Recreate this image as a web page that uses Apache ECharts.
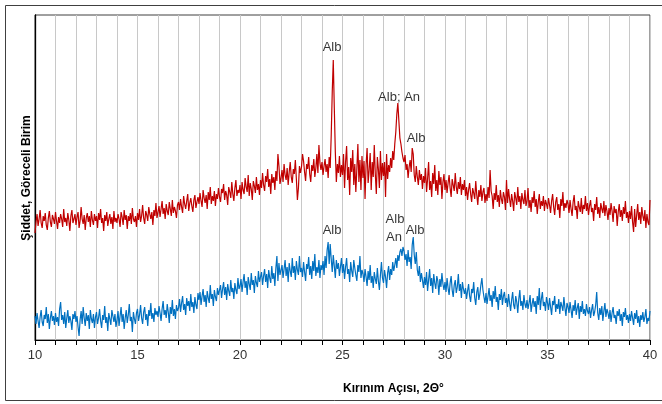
<!DOCTYPE html>
<html><head><meta charset="utf-8">
<script src="https://cdn.jsdelivr.net/npm/echarts@6/dist/echarts.min.js"></script>
<style>html,body{margin:0;padding:0;background:#fff}#c{width:662px;height:404px}</style>
</head><body><div id="c"></div>
<script>
// 2θ sampling of the scans (degrees)
const angleStart = 10;
const angleStep = 0.05;

// upper (red) pattern, relative intensity, one row per degree
const redIntensity = [
107,118,126,114,121,130,117,112,124,119,127,115,110,122,129,118,113,125,121,116,
128,119,111,123,117,126,121,113,131,118,122,114,127,120,109,124,130,117,121,126,
115,123,128,112,119,133,121,116,125,110,122,127,118,124,113,129,120,115,126,119,
124,112,127,120,131,117,122,109,125,119,128,114,121,126,116,123,111,129,118,122,
117,126,121,113,128,123,115,130,120,125,111,124,119,127,116,132,121,118,124,113,
127,120,131,118,124,135,122,116,129,125,119,133,126,121,128,115,130,124,137,122,
128,134,123,131,139,126,132,121,136,129,125,138,131,124,140,127,133,129,122,135,
138,130,141,133,127,144,136,131,139,146,129,137,142,134,128,140,145,132,138,143,
136,147,139,133,150,142,137,145,131,148,140,153,136,144,139,149,134,146,141,152,
143,138,151,147,156,140,149,145,135,153,148,142,158,146,139,152,160,144,150,147,
155,141,158,150,146,162,153,148,165,144,157,151,140,159,154,147,163,150,156,145,
160,152,167,155,149,164,158,171,153,161,146,166,157,163,150,169,159,186,174,156,
162,170,158,176,165,160,172,155,168,178,163,157,171,166,180,161,140,152,174,167,
173,186,179,168,159,176,171,183,166,158,175,169,181,163,172,186,167,195,177,170,
178,165,174,181,168,176,162,183,172,205,248,280,232,188,158,176,167,184,163,175,
165,186,152,178,194,160,173,145,182,168,190,155,176,148,171,196,158,180,150,184,
162,179,141,175,192,157,170,187,150,178,163,195,166,146,183,171,152,189,160,177,
164,178,143,186,161,175,168,182,172,189,180,196,208,226,237,219,202,196,188,182,
178,185,170,176,162,173,180,168,192,186,165,158,174,163,155,170,160,166,151,164,
157,172,148,161,178,150,159,143,167,156,175,149,160,145,169,155,163,141,158,166,
150,160,147,157,165,152,143,161,155,149,167,153,146,158,151,163,145,156,150,160,
144,153,140,150,157,146,138,152,147,141,159,145,135,150,143,155,139,148,152,137,
146,139,153,142,170,149,144,131,147,140,155,138,145,133,150,141,136,148,143,130,
160,137,151,141,133,146,139,129,148,142,135,153,138,144,131,147,140,136,150,134,
139,152,132,140,128,143,137,149,133,141,126,138,146,131,139,134,144,129,140,136,
131,142,135,127,139,146,133,125,138,143,130,136,122,141,134,148,129,137,132,140,
136,127,140,131,124,138,145,130,134,121,139,133,128,142,126,135,131,144,129,137,
125,134,140,128,132,119,136,130,143,126,133,122,137,131,127,139,124,135,129,120,
132,125,137,129,118,134,127,131,114,128,136,123,130,119,133,126,139,122,128,117,
129,121,134,118,108,131,113,125,136,120,128,116,133,124,119,130,112,126,118,115,140
];

// lower (blue) pattern, relative intensity, one row per degree
const blueIntensity = [
24,16,27,19,12,23,30,18,14,25,21,33,17,26,11,22,29,19,24,15,
27,18,23,14,31,38,20,25,16,28,12,22,30,17,24,19,10,26,21,29,
18,24,13,4,20,29,16,33,22,14,27,19,25,11,30,21,17,26,12,23,
28,16,22,31,19,12,25,20,34,17,23,9,27,21,15,30,24,18,26,13,
20,29,14,24,33,18,26,11,22,30,17,25,36,19,23,8,28,21,16,27,
31,19,25,35,22,16,28,33,20,26,14,30,24,37,21,27,18,32,25,29,
23,34,27,19,31,39,25,30,22,36,28,17,33,26,40,24,31,21,35,29,
32,41,28,37,44,30,36,25,42,34,39,29,46,33,38,27,43,35,31,47,
40,48,35,44,51,38,45,33,49,42,37,55,41,46,34,50,43,39,52,45,
47,55,42,51,58,45,53,40,56,49,44,60,48,52,41,57,50,46,62,51,
54,61,48,58,66,52,59,45,63,56,50,67,55,60,47,64,57,53,69,58,
60,68,55,64,71,58,66,52,70,62,57,74,61,67,54,72,84,59,77,65,
66,75,62,71,80,64,73,58,77,69,63,82,67,74,60,79,70,65,84,68,
72,63,78,68,59,76,71,83,65,74,61,79,69,86,64,73,67,80,62,75,
70,79,65,84,72,90,98,76,96,81,68,85,74,62,80,71,77,64,73,82,
67,76,61,73,82,66,71,58,78,69,63,80,72,65,59,75,68,84,62,70,
66,58,71,63,54,69,60,75,57,64,52,68,61,56,72,59,50,65,78,62,
57,70,63,52,67,74,60,71,65,78,69,75,82,72,85,79,88,91,84,93,
89,80,86,74,90,78,83,71,95,103,85,76,88,70,64,74,58,67,60,52,
63,55,68,49,60,71,54,62,47,66,57,51,64,59,45,61,53,67,56,50,
58,48,62,52,45,57,64,50,43,55,60,47,53,66,49,56,42,58,51,46,
52,41,49,56,44,38,51,47,58,42,35,48,53,40,46,55,62,50,43,37,
47,36,44,52,39,45,33,49,41,54,38,43,30,46,40,51,35,44,48,37,
42,33,46,37,29,40,48,35,31,44,38,27,41,50,34,39,30,45,36,32,
40,31,37,45,28,36,42,33,39,26,44,35,52,30,41,48,34,38,29,43,
37,30,42,33,25,39,35,44,28,36,31,41,26,38,34,29,43,32,24,37,
33,27,38,30,22,35,29,40,25,32,37,21,34,28,39,26,31,24,36,29,
26,33,22,30,36,24,28,35,48,27,20,32,25,34,19,29,37,23,31,27,
21,30,18,27,33,22,25,16,29,24,31,19,26,14,28,23,32,20,25,17,
26,19,29,22,15,27,21,30,17,24,13,25,20,28,18,23,31,16,22,19,29
];

// labelled x ticks
const xTickLabels = [10, 15, 20, 25, 30, 35, 40];

// peak annotations: [2θ, intensity, text]
const peakLabels = [
  [24.49, 293, 'Alb'],
  [27.76, 243, 'Alb; An'],
  [28.59, 202, 'Alb'],
  [24.49, 110, 'Alb'],
  [27.56, 121, 'Alb'],
  [27.51, 103, 'An'],
  [28.54, 110, 'Alb']
];

const toPairs = arr => arr.map((v, i) => [+(angleStart + i * angleStep).toFixed(2), v]);

const FONT = '"Liberation Sans", Arial, sans-serif';
const chart = echarts.init(document.getElementById('c'), null, {renderer: 'canvas'});
chart.setOption({
  animation: false,
  backgroundColor: '#fff',
  grid: {left: 35, top: 15, right: 12, bottom: 64, show: true, borderColor: '#404040', borderWidth: 1},
  xAxis: {
    type: 'value', min: 10, max: 40, interval: 1,
    axisLine: {show: true, onZero: false, lineStyle: {color: '#000', width: 1}},
    axisTick: {show: true, inside: false, length: 5, lineStyle: {color: '#000'}},
    axisLabel: {
      show: true, margin: 9, color: '#333', fontSize: 13, fontFamily: FONT,
      formatter: v => xTickLabels.includes(Math.round(v)) ? String(Math.round(v)) : ''
    },
    splitLine: {show: true, lineStyle: {color: '#c8c8c8', width: 1}}
  },
  yAxis: {
    type: 'value', min: 0, max: 325,
    axisLine: {show: true, lineStyle: {color: '#000', width: 1.3}},
    axisTick: {show: false}, axisLabel: {show: false}, splitLine: {show: false}
  },
  series: [
    {type: 'line', data: toPairs(redIntensity), showSymbol: false, symbol: 'none',
     lineStyle: {color: '#C00000', width: 1.2}, z: 3},
    {type: 'line', data: toPairs(blueIntensity), showSymbol: false, symbol: 'none',
     lineStyle: {color: '#0070C0', width: 1.2}, z: 3},
    {type: 'scatter', symbolSize: 0, z: 5,
     data: peakLabels.map(p => ({value: [p[0], p[1]], name: p[2]})),
     label: {show: true, position: 'inside', formatter: '{b}', color: '#000', fontSize: 13,
             fontFamily: FONT, align: 'center', verticalAlign: 'middle'}}
  ],
  graphic: [
    {type: 'rect', shape: {x: 5.5, y: 5.5, width: 662, height: 395}, silent: true,
     style: {fill: 'none', stroke: '#404040', lineWidth: 1}},
    {type: 'text', left: 343, top: 383,
     style: {text: 'Kırınım Açısı, 2Θ°', font: 'bold 12px ' + FONT, fill: '#000'}},
    {type: 'text', x: 27, y: 178, rotation: Math.PI / 2,
     style: {text: 'Şiddet, Göreceli Birim', font: 'bold 12px ' + FONT, fill: '#000',
             align: 'center', verticalAlign: 'middle'}}
  ]
});
</script>
</body></html>
